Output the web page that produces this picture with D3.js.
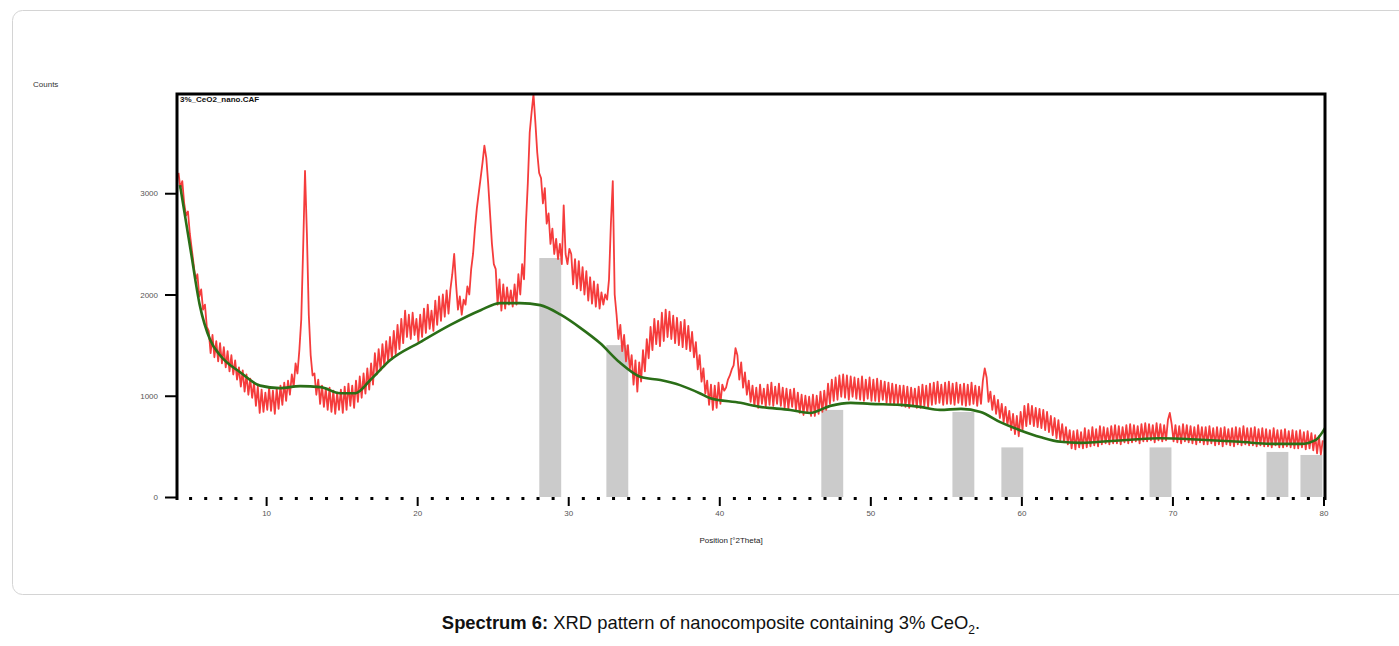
<!DOCTYPE html>
<html><head><meta charset="utf-8">
<script src="https://cdn.jsdelivr.net/npm/d3@7/dist/d3.min.js"></script>
<style>
html,body{margin:0;padding:0;background:#fff;}
svg{display:block;}
</style></head>
<body>
<svg id="chart" width="1399" height="646"></svg>
<script>
// ---------- data ----------
const scanStart = 4.2;      // °2Theta of first sample
const scanStep = 0.125;     // °2Theta between samples
const observedCounts = [
3200,3050,3120,2900,2780,2820,2600,2450, 2300,2150,2200,1980,2050,1850,1900,1680,
1640,1420,1600,1380,1540,1340,1520,1320, 1480,1280,1440,1240,1400,1210,1350,1160,
1280,1090,1250,1040,1210,1010,1170,980, 1130,900,1090,830,1060,840,1030,860,
1080,850,1050,820,1070,870,1100,910, 1130,950,1150,1010,1210,1090,1320,1220,
1450,1750,2450,3220,2600,1800,1400,1200, 1220,1010,1160,920,1100,890,1070,860,
1080,840,1050,820,1030,860,1060,830, 1090,860,1120,900,1100,880,1150,940,
1190,980,1220,1020,1270,1060,1320,1110, 1420,1210,1460,1250,1510,1290,1540,1340,
1580,1360,1640,1410,1700,1460,1760,1520, 1840,1580,1800,1560,1820,1600,1760,1540,
1800,1580,1860,1620,1900,1660,1840,1640, 1940,1700,1980,1740,2000,1780,2040,1810,
2050,2200,2400,2100,1850,1980,1800,1950, 1900,2080,2000,2250,2400,2650,2850,3000,
3150,3300,3470,3350,3100,2800,2500,2300, 2250,1900,2150,1840,2100,1860,2070,1900,
2040,1880,2100,1900,2200,2000,2300,2150, 2700,3100,3600,3800,3980,3700,3400,3200,
3150,2900,3050,2700,2800,2500,2650,2400, 2550,2350,2500,2300,2880,2400,2300,2450,
2400,2100,2350,2060,2330,2040,2270,2000, 2230,1940,2170,1910,2130,1880,2100,1860,
2020,1900,2000,1950,2150,2700,3120,2000, 1800,1560,1700,1440,1600,1340,1500,1260,
1400,1110,1350,1040,1330,1140,1450,1240, 1560,1370,1680,1450,1760,1510,1740,1490,
1820,1540,1850,1580,1830,1560,1790,1520, 1770,1500,1730,1480,1750,1460,1690,1440,
1630,1380,1530,1260,1400,1140,1270,1020, 1150,910,1110,860,1100,880,1130,920,
1110,1050,1080,1160,1200,1260,1300,1470, 1400,1160,1330,1080,1230,1010,1150,940,
1100,900,1080,880,1110,920,1070,890, 1110,910,1130,900,1090,920,1120,900,
1080,880,1070,870,1060,890,1070,860, 1030,830,1010,810,1000,830,990,800,
1010,800,1000,820,1040,840,1050,860, 1120,920,1160,950,1180,960,1200,990,
1210,980,1200,960,1190,990,1180,970, 1170,960,1190,950,1160,970,1180,950,
1160,950,1170,940,1150,960,1140,930, 1130,920,1120,910,1110,920,1100,900,
1100,890,1090,880,1080,900,1070,880, 1090,880,1110,900,1100,890,1120,910,
1130,920,1140,930,1110,910,1130,920, 1140,920,1120,910,1130,930,1110,910,
1120,900,1110,910,1130,920,1100,900, 1090,920,1150,1270,1180,940,1040,860,
1000,820,960,780,920,740,890,710, 850,660,820,620,800,600,840,660,
900,700,920,720,900,700,880,690, 870,680,860,660,840,640,800,610,
780,580,760,560,720,540,690,520, 660,480,650,470,660,490,640,480,
680,490,660,500,690,510,670,500, 700,520,690,530,680,520,700,530,
710,530,700,520,690,540,710,530, 720,540,710,550,700,530,720,550,
730,550,720,560,710,540,730,560, 720,550,710,560,760,830,720,550,
710,540,700,530,720,550,710,540, 700,530,690,520,710,540,690,520,
690,520,700,530,680,510,690,520, 680,500,690,520,670,510,680,500,
690,520,680,510,700,520,680,510, 680,510,690,500,670,510,680,500,
670,500,660,490,680,510,660,490, 660,490,670,500,650,490,660,480,
650,480,660,490,640,470,650,480, 630,460,610,430,600,420,560
];
const backgroundTheta = [4.3,5.0,5.6,6.3,6.95,8.3,9.6,10.9,12.25,13.6,14.9,15.9,16.9,18.2,20.2,22.2,24.2,25.5,26.8,28.15,29.5,30.8,32.1,33.4,34.8,36.1,37.4,38.7,39.4,41.4,42.7,44.7,46.0,47.35,48.7,50.0,52.0,53.3,54.6,56.0,57.3,58.6,59.9,61.3,62.6,63.9,65.2,67.2,69.2,71.9,74.5,76.5,78.5,79.5,80.1];
const backgroundCounts = [3080,2440,1900,1550,1400,1230,1100,1075,1095,1085,1025,1025,1155,1350,1530,1700,1845,1915,1915,1895,1800,1670,1520,1330,1185,1155,1105,1025,975,930,890,860,830,900,930,920,910,890,860,870,840,740,660,590,545,535,545,565,580,565,545,525,525,565,680];
const refPeakTheta = [28.81,33.25,47.48,56.16,59.40,69.21,76.95,79.20];
const refPeakCounts = [2360,1500,860,840,490,490,445,415];
const yTickValues = [0,1000,2000,3000];
const yTickLabels = ["0","1000","2000","3000"];
const xTickValues = [10,20,30,40,50,60,70,80];
const xTickLabels = ["10","20","30","40","50","60","70","80"];
const xMinorValues = d3.range(5,81,1);
const xDomain = [4.1, 80.1];
const yDomain = [0, 3980];

// ---------- layout ----------
const svg = d3.select("#chart");
const L = 177, R = 1325, T = 94, B = 497;
const x = d3.scaleLinear().domain(xDomain).range([L, R]);
const y = d3.scaleLinear().domain(yDomain).range([B, T]);
const FONT = "Liberation Sans, Arial, sans-serif";

// panel border
svg.append("rect").attr("x",12.5).attr("y",10.5).attr("width",1410).attr("height",584)
  .attr("rx",10).attr("fill","none").attr("stroke","#d4d4d4").attr("stroke-width",1);

// reference bars
const barW = 1.45;
svg.append("g").selectAll("rect").data(refPeakTheta).join("rect")
  .attr("x", d => x(d - barW/2))
  .attr("width", d => x(d + barW/2) - x(d - barW/2))
  .attr("y", (d,i) => y(refPeakCounts[i]))
  .attr("height", (d,i) => y(0) - y(refPeakCounts[i]))
  .attr("fill", "#cbcbcb");

// observed trace
const obs = observedCounts.map((c,i) => [scanStart + i*scanStep, c]);
svg.append("path").datum(obs)
  .attr("d", d3.line().x(d => x(d[0])).y(d => y(d[1])))
  .attr("fill","none").attr("stroke","#f53c3c").attr("stroke-width",1.8).attr("stroke-linejoin","round");

// background
const bg = backgroundTheta.map((t,i) => [t, backgroundCounts[i]]);
svg.append("path").datum(bg)
  .attr("d", d3.line().curve(d3.curveMonotoneX).x(d => x(d[0])).y(d => y(d[1])))
  .attr("fill","none").attr("stroke","#2a6e17").attr("stroke-width",2.6);

// frame: left, top, right
svg.append("path")
  .attr("d", `M${L},${B+3}V${T}H${R}V${B+3}`)
  .attr("fill","none").attr("stroke","#000").attr("stroke-width",3);

// y axis ticks
const yAxis = d3.axisLeft(y).tickValues(yTickValues).tickSize(12).tickPadding(7)
  .tickFormat((d,i) => yTickLabels[i]);
const gy = svg.append("g").attr("transform",`translate(${L},0)`).call(yAxis);
gy.select(".domain").remove();
gy.selectAll("line").attr("stroke","#000").attr("stroke-width",2);
gy.selectAll("text").attr("font-family",FONT).attr("font-size",8).attr("fill","#555");

// x axis major ticks
const xAxis = d3.axisBottom(x).tickValues(xTickValues).tickSize(9).tickPadding(4)
  .tickFormat((d,i) => xTickLabels[i]);
const gx = svg.append("g").attr("transform",`translate(0,${B})`).call(xAxis);
gx.select(".domain").remove();
gx.selectAll("line").attr("stroke","#000").attr("stroke-width",2);
gx.selectAll("text").attr("font-family",FONT).attr("font-size",8).attr("fill","#555");

// minor dots
svg.append("g").selectAll("rect").data(xMinorValues.filter(v => !xTickValues.includes(v))).join("rect")
  .attr("x", d => x(d) - 1.5).attr("y", B).attr("width",3).attr("height",3).attr("fill","#000");

// texts
svg.append("text").attr("x",33).attr("y",87).text("Counts")
  .attr("font-family",FONT).attr("font-size",8).attr("fill","#333");
svg.append("text").attr("x",L+3).attr("y",T+8).text("3%_CeO2_nano.CAF")
  .attr("font-family",FONT).attr("font-size",8).attr("font-weight","bold").attr("fill","#111");
svg.append("text").attr("x",(L+R)/2 - 20).attr("y",543).attr("text-anchor","middle").text("Position [°2Theta]")
  .attr("font-family",FONT).attr("font-size",8).attr("fill","#222");

// caption
const cap = svg.append("text").attr("x",711).attr("y",629).attr("text-anchor","middle")
  .attr("font-family",FONT).attr("font-size",18.4).attr("fill","#111");
cap.append("tspan").attr("font-weight","bold").text("Spectrum 6:");
cap.append("tspan").text(" XRD pattern of nanocomposite containing 3% CeO");
cap.append("tspan").attr("font-size",12).attr("dy",5).text("2");
cap.append("tspan").attr("dy",-5).text(".");
</script>
</body></html>
